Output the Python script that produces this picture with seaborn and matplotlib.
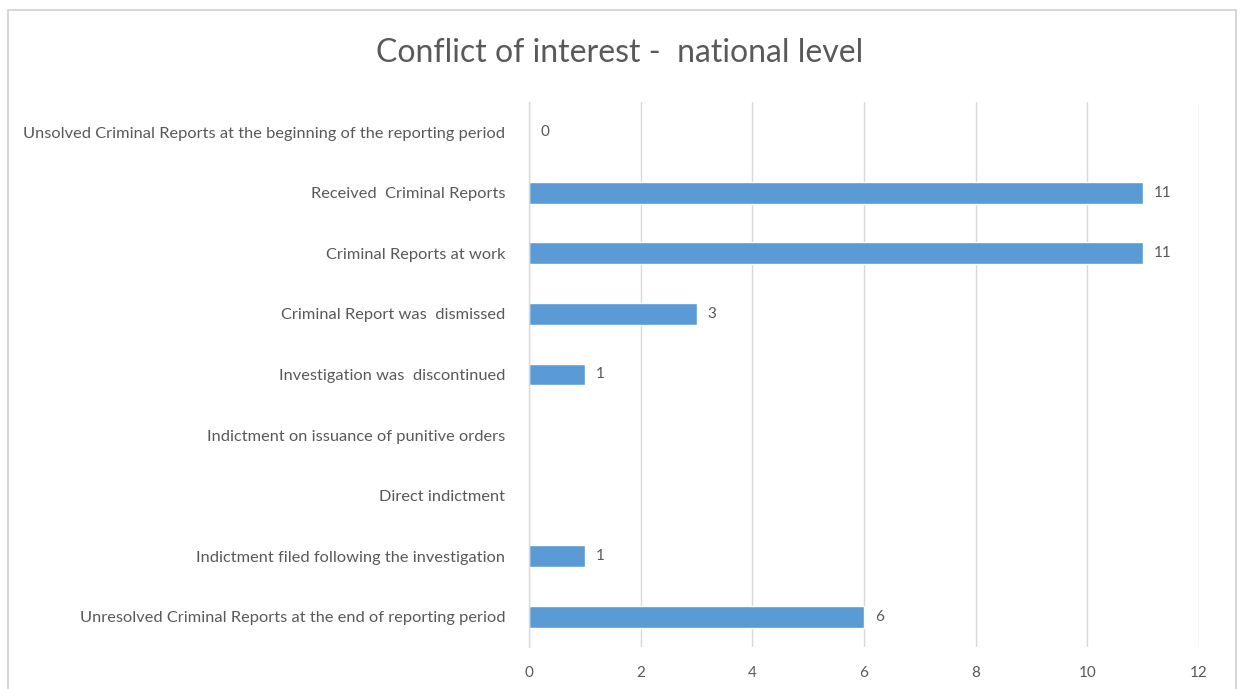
import matplotlib
matplotlib.use("Agg")
import matplotlib.pyplot as plt
import numpy as np
import pandas as pd
import seaborn as sns
from matplotlib.patches import Rectangle

categories = [
    "Unsolved Criminal Reports at the beginning of the reporting period",
    "Received  Criminal Reports",
    "Criminal Reports at work",
    "Criminal Report was  dismissed",
    "Investigation was  discontinued",
    "Indictment on issuance of punitive orders",
    "Direct indictment",
    "Indictment filed following the investigation",
    "Unresolved Criminal Reports at the end of reporting period",
]
values = [0, 11, 11, 3, 1, np.nan, np.nan, 1, 6]
x_ticks = [0, 2, 4, 6, 8, 10, 12]

sns.set_theme(style="white")
plt.rcParams["font.family"] = ["Lato", "DejaVu Sans"]

df = pd.DataFrame({"category": categories, "value": values})

fig = plt.figure(figsize=(12.47, 6.89), dpi=100)
ax = fig.add_axes([529 / 1247, 1 - 647 / 689, 670 / 1247, 545 / 689])

bar_color = "#5B9BD5"
text_color = "#595959"

sns.barplot(data=df.dropna(), x="value", y="category", order=categories,
            color=bar_color, width=0.36, orient="h", ax=ax, saturation=1)

ax.set_xlim(0, 12)
ax.set_ylim(len(categories) - 0.5, -0.5)
ax.set_xticks(x_ticks)
ax.set_xticklabels([str(t) for t in x_ticks])
ax.grid(axis="x", color="#d9d9d9", linewidth=1)
ax.set_axisbelow(True)
for side in ("top", "right", "bottom"):
    ax.spines[side].set_visible(False)
ax.spines["left"].set_color("#d9d9d9")
ax.spines["left"].set_linewidth(1)
ax.set_xlabel("")
ax.set_ylabel("")
ax.tick_params(axis="y", length=0, pad=17, labelsize=11.8, labelcolor=text_color)
ax.tick_params(axis="x", length=0, pad=14, labelsize=11, labelcolor=text_color)

# value labels beside each bar
for i, v in enumerate(values):
    if np.isnan(v):
        continue
    ax.annotate(f"{v:g}", xy=(v, i), xytext=(8, 0), textcoords="offset points",
                ha="left", va="center", fontsize=11, color=text_color)

fig.suptitle("Conflict of interest -  national level", x=0.497, y=1 - 53 / 689,
             va="center", fontsize=23, color=text_color)

# chart area frame
fig.patches.append(Rectangle((8 / 1247, -0.05), 1228 / 1247, 1.05 - 10 / 689,
                             transform=fig.transFigure, fill=False,
                             edgecolor="#d0d0d0", linewidth=1.2))

fig.savefig("out.png", dpi=100)
